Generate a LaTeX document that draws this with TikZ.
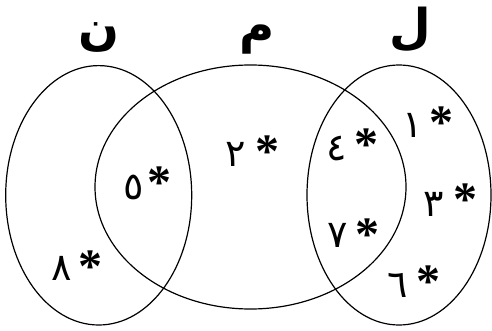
\documentclass[tikz,border=0pt]{standalone}
\usepackage{fontspec}
\TeXXeTstate=1
\newfontfamily\arabicfont[Script=Arabic]{DejaVu Sans}
\newfontfamily\astfont{Liberation Serif}
\begin{document}
\begin{tikzpicture}[x=1pt,y=-1pt,
  setline/.style={draw=black,line width=1.2pt},
  setlabel/.style={font=\arabicfont\bfseries\fontsize{48}{50}\selectfont,inner sep=0pt},
  digit/.style={font=\arabicfont\fontsize{38}{40}\selectfont,inner sep=0pt},
  star/.style={font=\astfont\bfseries\fontsize{48}{50}\selectfont,inner sep=0pt,anchor=center}]
\useasboundingbox (0,0) rectangle (492,331);
% sets
\draw[setline] (98.7,195.3) ellipse [x radius=93, y radius=129.7];
\draw[setline] (250.5,187) ellipse [x radius=155.5, y radius=122];
\draw[setline] (399,195) ellipse [x radius=92, y radius=130];
% set labels
\node[setlabel] (labN) at (99,38) {\beginR ن\endR};
\node[setlabel] (labM) at (257,40) {\beginR م\endR};
\node[setlabel] (labL) at (410,30) {\beginR ل\endR};
% elements
\node[digit] (d1) at (413,125) {١};
\node[star] (s1) at (441.5,123) {*};
\node[digit] (d4) at (337,148.5) {٤};
\node[star] (s4) at (366,144.5) {*};
\node[digit] (d2) at (236,154) {٢};
\node[star] (s2) at (267.5,152) {*};
\node[digit] (d5) at (134,187) {٥};
\node[star] (s5) at (159,183) {*};
\node[digit] (d3) at (434,204) {٣};
\node[star] (s3) at (465,200) {*};
\node[digit] (d7) at (338,235.5) {٧};
\node[star] (s7) at (367.5,234.5) {*};
\node[digit] (d6) at (398,285) {٦};
\node[star] (s6) at (428.5,282) {*};
\node[digit] (d8) at (62,268) {٨};
\node[star] (s8) at (90.5,266.5) {*};
\end{tikzpicture}
\end{document}
